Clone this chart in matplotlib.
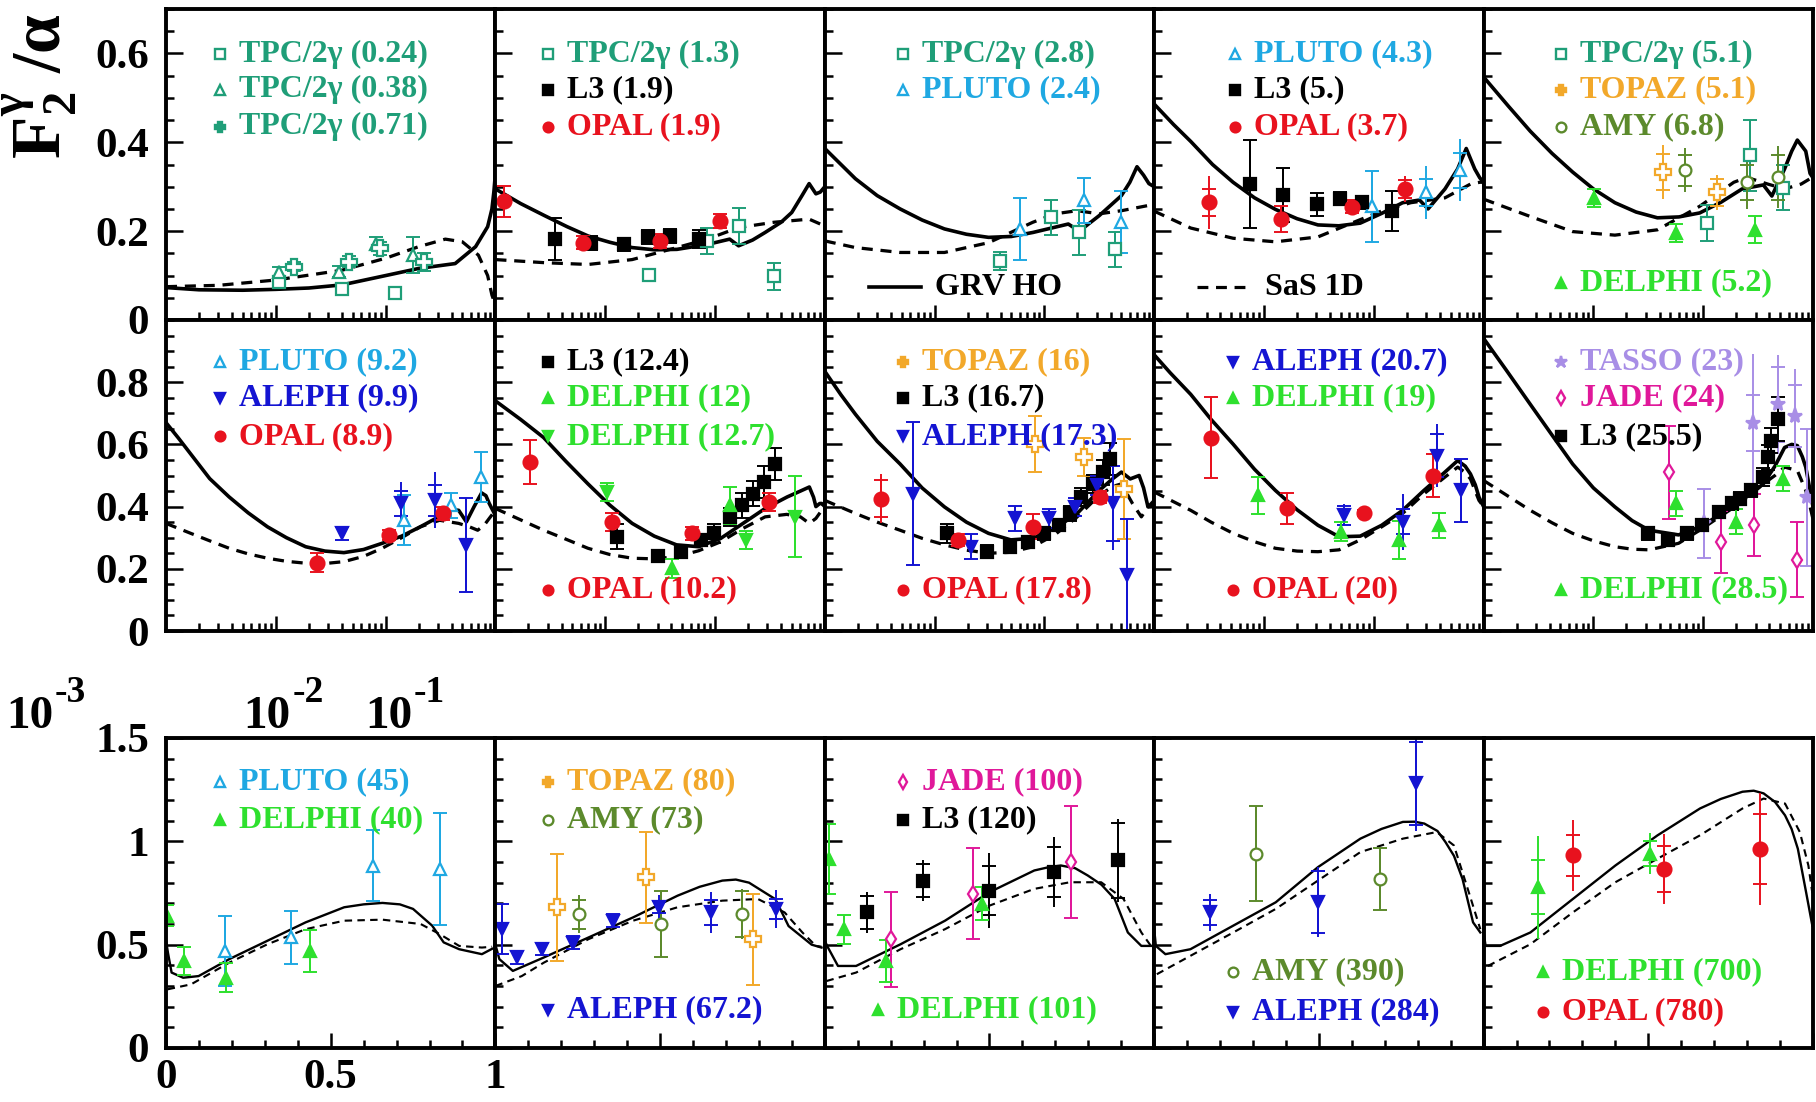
import matplotlib.pyplot as plt
from matplotlib.ticker import MultipleLocator, FixedLocator, LogLocator, NullFormatter, FuncFormatter
from matplotlib.transforms import offset_copy

plt.rcParams['font.family'] = ['Liberation Serif', 'DejaVu Serif']
plt.rcParams['font.weight'] = 'bold'
plt.rcParams['mathtext.fontset'] = 'custom'
plt.rcParams['mathtext.rm'] = 'Liberation Serif:bold'
plt.rcParams['mathtext.it'] = 'Liberation Serif:bold'
plt.rcParams['mathtext.bf'] = 'Liberation Serif:bold'

# ---------------- data: GRV HO (solid) and SaS 1D (dashed) per panel ----------------
p1_grv_x = [0.001, 0.002, 0.005, 0.01, 0.02, 0.04, 0.1, 0.2, 0.43, 0.66, 0.85, 0.93, 0.97, 1.0]
p1_grv_y = [0.073, 0.068, 0.067, 0.069, 0.072, 0.079, 0.100, 0.116, 0.127, 0.165, 0.21, 0.25, 0.29, 0.33]
p1_sas_x = [0.001, 0.003, 0.01, 0.04, 0.1, 0.2, 0.35, 0.5, 0.7, 0.85, 0.93, 0.98]
p1_sas_y = [0.075, 0.078, 0.09, 0.112, 0.139, 0.165, 0.182, 0.176, 0.146, 0.10, 0.056, 0.04]

p2_grv_x = [0.001, 0.0017, 0.0028, 0.0045, 0.007, 0.011, 0.0176, 0.028, 0.045, 0.085, 0.136, 0.164,
            0.22, 0.286, 0.40, 0.50, 0.62, 0.72, 0.83, 0.91, 1.0]
p2_grv_y = [0.295, 0.262, 0.235, 0.21, 0.189, 0.175, 0.163, 0.158, 0.159, 0.170, 0.182, 0.167,
            0.18, 0.197, 0.22, 0.242, 0.28, 0.307, 0.284, 0.288, 0.30]
p2_sas_x = [0.001, 0.0028, 0.007, 0.0176, 0.045, 0.085, 0.164, 0.344, 0.72, 0.91, 1.0]
p2_sas_y = [0.136, 0.129, 0.125, 0.136, 0.163, 0.182, 0.208, 0.220, 0.227, 0.216, 0.21]

p3_grv_x = [0.001, 0.0019, 0.003, 0.00485, 0.0077, 0.0123, 0.0195, 0.031, 0.05, 0.0785, 0.165, 0.208,
            0.316, 0.503, 0.6, 0.697, 0.80, 0.895, 1.0]
p3_grv_y = [0.386, 0.318, 0.28, 0.25, 0.225, 0.205, 0.193, 0.186, 0.188, 0.197, 0.216, 0.20,
            0.235, 0.28, 0.31, 0.345, 0.326, 0.307, 0.30]
p3_sas_x = [0.001, 0.0019, 0.00485, 0.0123, 0.031, 0.0785, 0.125, 0.198, 0.316, 0.503, 0.895, 1.0]
p3_sas_y = [0.178, 0.163, 0.152, 0.152, 0.174, 0.22, 0.239, 0.246, 0.239, 0.246, 0.258, 0.26]

p4_grv_x = [0.001, 0.0015, 0.00215, 0.0034, 0.00523, 0.0082, 0.0127, 0.02, 0.031, 0.048, 0.0752, 0.118,
            0.183, 0.261, 0.312, 0.445, 0.58, 0.695, 0.83, 0.923, 1.0]
p4_grv_y = [0.486, 0.44, 0.402, 0.35, 0.31, 0.275, 0.249, 0.228, 0.214, 0.212, 0.218, 0.24,
            0.264, 0.27, 0.25, 0.295, 0.34, 0.386, 0.34, 0.32, 0.31]
p4_sas_x = [0.001, 0.00215, 0.00523, 0.0127, 0.031, 0.0628, 0.117, 0.217, 0.445, 0.76, 0.923, 1.0]
p4_sas_y = [0.245, 0.207, 0.184, 0.176, 0.187, 0.218, 0.245, 0.264, 0.275, 0.306, 0.31, 0.31]

p5_grv_x = [0.001, 0.0017, 0.00266, 0.0042, 0.00647, 0.01, 0.0157, 0.0245, 0.0383, 0.06, 0.093, 0.145,
            0.226, 0.353, 0.422, 0.551, 0.64, 0.72, 0.859, 0.94, 1.0]
p5_grv_y = [0.547, 0.48, 0.425, 0.375, 0.333, 0.295, 0.264, 0.243, 0.23, 0.232, 0.241, 0.265,
            0.295, 0.304, 0.279, 0.34, 0.38, 0.405, 0.38, 0.33, 0.32]
p5_sas_x = [0.001, 0.00266, 0.00647, 0.0157, 0.0383, 0.093, 0.19, 0.25, 0.387, 0.551, 0.78, 0.94, 1.0]
p5_sas_y = [0.272, 0.233, 0.199, 0.191, 0.203, 0.256, 0.31, 0.321, 0.306, 0.295, 0.306, 0.318, 0.32]

p6_grv_x = [0.001, 0.0013, 0.00168, 0.0025, 0.00376, 0.0056, 0.0084, 0.0125, 0.0187, 0.028, 0.0417,
            0.063, 0.093, 0.14, 0.207, 0.28, 0.336, 0.40, 0.463, 0.544, 0.64, 0.749, 0.82, 0.879, 0.94, 1.0]
p6_grv_y = [0.67, 0.62, 0.569, 0.49, 0.431, 0.38, 0.335, 0.30, 0.271, 0.257, 0.252,
            0.262, 0.282, 0.305, 0.335, 0.36, 0.378, 0.39, 0.388, 0.351, 0.40, 0.444, 0.435, 0.41, 0.39, 0.372]
p6_sas_x = [0.001, 0.00168, 0.0025, 0.00376, 0.0056, 0.0084, 0.0125, 0.0187, 0.028, 0.0417, 0.063,
            0.093, 0.14, 0.207, 0.31, 0.463, 0.58, 0.69, 0.79, 0.879, 1.0]
p6_sas_y = [0.346, 0.314, 0.29, 0.266, 0.248, 0.234, 0.224, 0.218, 0.217, 0.223, 0.24,
            0.266, 0.30, 0.335, 0.356, 0.346, 0.335, 0.324, 0.34, 0.362, 0.388]

p7_grv_x = [0.001, 0.0017, 0.00275, 0.0044, 0.00697, 0.011, 0.0176, 0.028, 0.0446, 0.071, 0.113, 0.18,
            0.286, 0.454, 0.6, 0.723, 0.79, 0.83, 0.9, 0.937, 1.0]
p7_grv_y = [0.74, 0.68, 0.622, 0.545, 0.473, 0.405, 0.346, 0.305, 0.277, 0.271, 0.298, 0.346,
            0.394, 0.431, 0.45, 0.463, 0.43, 0.40, 0.41, 0.41, 0.40]
p7_sas_x = [0.001, 0.00275, 0.0044, 0.00697, 0.011, 0.0176, 0.028, 0.0446, 0.071, 0.113, 0.18, 0.286,
            0.45, 0.60, 0.723, 0.83, 0.937, 1.0]
p7_sas_y = [0.394, 0.324, 0.295, 0.266, 0.246, 0.234, 0.232, 0.239, 0.258, 0.287, 0.33, 0.367,
            0.375, 0.367, 0.346, 0.362, 0.388, 0.40]

p8_grv_x = [0.001, 0.0014, 0.0019, 0.003, 0.00485, 0.0077, 0.0123, 0.0195, 0.031, 0.0494, 0.0785, 0.125,
            0.199, 0.316, 0.42, 0.503, 0.605, 0.729, 0.8, 0.878, 1.0]
p8_grv_y = [0.835, 0.76, 0.697, 0.61, 0.537, 0.46, 0.399, 0.35, 0.314, 0.293, 0.298, 0.33,
            0.378, 0.452, 0.49, 0.511, 0.489, 0.50, 0.46, 0.399, 0.40]
p8_sas_x = [0.001, 0.0019, 0.003, 0.00485, 0.0077, 0.0123, 0.0195, 0.031, 0.0494, 0.0785, 0.125, 0.199,
            0.316, 0.42, 0.503, 0.634, 0.764, 0.878, 1.0]
p8_sas_y = [0.42, 0.378, 0.35, 0.324, 0.298, 0.277, 0.26, 0.25, 0.253, 0.271, 0.31, 0.367,
            0.436, 0.465, 0.473, 0.41, 0.367, 0.399, 0.42]

p9_grv_x = [0.001, 0.0014, 0.00215, 0.0033, 0.00523, 0.0082, 0.0127, 0.02, 0.031, 0.0483, 0.0752, 0.118,
            0.183, 0.286, 0.445, 0.581, 0.68, 0.759, 0.84, 0.907, 1.0]
p9_grv_y = [0.888, 0.83, 0.761, 0.68, 0.601, 0.52, 0.452, 0.39, 0.34, 0.303, 0.305, 0.34,
            0.388, 0.452, 0.511, 0.548, 0.53, 0.505, 0.47, 0.431, 0.40]
p9_sas_x = [0.001, 0.00215, 0.0033, 0.00523, 0.0082, 0.0127, 0.02, 0.031, 0.0483, 0.0752, 0.118, 0.183,
            0.286, 0.445, 0.581, 0.68, 0.759, 0.907, 1.0]
p9_sas_y = [0.447, 0.388, 0.35, 0.314, 0.287, 0.266, 0.257, 0.255, 0.261, 0.293, 0.335, 0.378,
            0.441, 0.495, 0.527, 0.51, 0.489, 0.42, 0.40]

p10_grv_x = [0.001, 0.0016, 0.00266, 0.0042, 0.00647, 0.01, 0.0157, 0.0225, 0.0321, 0.0597, 0.093, 0.145,
             0.226, 0.353, 0.45, 0.551, 0.64, 0.72, 0.8, 0.859, 0.94, 1.0]
p10_grv_y = [0.941, 0.84, 0.729, 0.63, 0.537, 0.46, 0.399, 0.355, 0.324, 0.309, 0.335, 0.375,
             0.42, 0.473, 0.53, 0.59, 0.60, 0.596, 0.56, 0.527, 0.452, 0.40]
p10_sas_x = [0.001, 0.00266, 0.0042, 0.00647, 0.01, 0.0157, 0.0225, 0.0321, 0.0597, 0.093, 0.145, 0.226,
             0.353, 0.45, 0.551, 0.72, 0.859, 0.94, 1.0]
p10_sas_y = [0.484, 0.388, 0.348, 0.314, 0.29, 0.271, 0.263, 0.261, 0.282, 0.324, 0.37, 0.415,
             0.473, 0.50, 0.527, 0.516, 0.452, 0.40, 0.36]

p11_grv_x = [0.0, 0.006, 0.017, 0.052, 0.099, 0.192, 0.308, 0.424, 0.541, 0.6, 0.657, 0.71, 0.75, 0.808,
             0.843, 0.89, 0.959, 0.99]
p11_grv_y = [0.52, 0.46, 0.365, 0.34, 0.348, 0.43, 0.519, 0.608, 0.681, 0.695, 0.702, 0.695, 0.673, 0.592,
             0.511, 0.478, 0.454, 0.48]
p11_sas_x = [0.005, 0.076, 0.192, 0.308, 0.424, 0.541, 0.657, 0.773, 0.831, 0.89, 0.959, 0.99]
p11_sas_y = [0.284, 0.308, 0.413, 0.502, 0.575, 0.616, 0.621, 0.60, 0.551, 0.494, 0.486, 0.49]

p12_grv_x = [0.0, 0.012, 0.053, 0.147, 0.283, 0.418, 0.553, 0.62, 0.689, 0.73, 0.77, 0.85, 0.89, 0.96, 0.99]
p12_grv_y = [0.50, 0.43, 0.373, 0.438, 0.535, 0.632, 0.737, 0.78, 0.81, 0.815, 0.80, 0.72, 0.59, 0.50, 0.486]
p12_sas_x = [0.0, 0.08, 0.147, 0.283, 0.418, 0.553, 0.689, 0.797, 0.878, 0.932, 0.973, 0.99]
p12_sas_y = [0.30, 0.348, 0.413, 0.527, 0.616, 0.681, 0.713, 0.721, 0.656, 0.559, 0.494, 0.49]

p13_grv_x = [0.0, 0.007, 0.04, 0.095, 0.23, 0.365, 0.50, 0.636, 0.68, 0.717, 0.76, 0.798, 0.84, 0.88,
             0.92, 0.961, 0.99]
p13_grv_y = [0.52, 0.494, 0.397, 0.397, 0.502, 0.616, 0.754, 0.859, 0.875, 0.883, 0.87, 0.835, 0.79, 0.721,
             0.559, 0.494, 0.494]
p13_sas_x = [0.005, 0.095, 0.23, 0.365, 0.50, 0.636, 0.744, 0.839, 0.907, 0.961, 0.99]
p13_sas_y = [0.324, 0.365, 0.478, 0.575, 0.689, 0.77, 0.802, 0.802, 0.721, 0.559, 0.494]

p14_grv_x = [0.0, 0.005, 0.034, 0.11, 0.24, 0.369, 0.497, 0.626, 0.69, 0.755, 0.79, 0.82, 0.86, 0.884,
             0.91, 0.936, 0.968, 0.99]
p14_grv_y = [0.575, 0.494, 0.454, 0.478, 0.592, 0.705, 0.875, 1.013, 1.06, 1.094, 1.095, 1.086, 1.05, 0.997,
             0.93, 0.818, 0.608, 0.559]
p14_sas_x = [0.008, 0.11, 0.24, 0.369, 0.497, 0.626, 0.755, 0.858, 0.91, 0.955, 0.99]
p14_sas_y = [0.357, 0.446, 0.559, 0.673, 0.81, 0.948, 1.013, 1.045, 0.98, 0.754, 0.575]

p15_grv_x = [0.0, 0.006, 0.05, 0.142, 0.271, 0.40, 0.528, 0.657, 0.72, 0.786, 0.82, 0.85, 0.885, 0.915,
             0.935, 0.954, 0.979, 0.998]
p15_grv_y = [0.56, 0.494, 0.494, 0.559, 0.721, 0.883, 1.029, 1.159, 1.205, 1.24, 1.245, 1.232, 1.19, 1.126,
             1.06, 0.964, 0.754, 0.592]
p15_sas_x = [0.013, 0.142, 0.271, 0.40, 0.528, 0.657, 0.786, 0.85, 0.915, 0.96, 0.986, 0.998]
p15_sas_y = [0.397, 0.502, 0.656, 0.802, 0.916, 1.029, 1.159, 1.207, 1.183, 1.045, 0.883, 0.75]

# ---------------- data: measurements (x, F2/alpha, total error, stat error) ----------------
p1_tpc024_x = [0.0107, 0.040, 0.123]
p1_tpc024_y = [0.085, 0.070, 0.060]
p1_tpc024_e = [0.01, 0.01, 0.01]
p1_tpc038_x = [0.0107, 0.038, 0.082, 0.177]
p1_tpc038_y = [0.109, 0.109, 0.172, 0.146]
p1_tpc038_e = [0.01, 0.012, 0.015, 0.04]
p1_tpc071_x = [0.0147, 0.046, 0.089, 0.225]
p1_tpc071_y = [0.12, 0.131, 0.161, 0.131]
p1_tpc071_e = [0.01, 0.012, 0.015, 0.02]

p2_tpc_x = [0.0251, 0.0854, 0.164, 0.344]
p2_tpc_y = [0.102, 0.178, 0.212, 0.098]
p2_tpc_e = [0.012, 0.03, 0.04, 0.03]
p2_l3_x = [0.00347, 0.0075, 0.0149, 0.0244, 0.0388, 0.0722]
p2_l3_y = [0.182, 0.173, 0.170, 0.187, 0.189, 0.182]
p2_l3_e = [0.047, 0.015, 0.015, 0.015, 0.015, 0.02]
p2_opal_x = [0.00119, 0.0063, 0.0313, 0.110]
p2_opal_y = [0.267, 0.174, 0.178, 0.223]
p2_opal_e = [0.035, 0.015, 0.015, 0.015]

p3_tpc_x = [0.0392, 0.114, 0.208, 0.437]
p3_tpc_y = [0.133, 0.231, 0.197, 0.159]
p3_tpc_e = [0.02, 0.04, 0.05, 0.04]
p3_pluto_x = [0.0594, 0.229, 0.503]
p3_pluto_y = [0.205, 0.269, 0.22]
p3_pluto_e = [0.07, 0.05, 0.07]

p4_pluto_x = [0.0966, 0.299, 0.608]
p4_pluto_y = [0.256, 0.287, 0.337]
p4_pluto_e = [0.08, 0.06, 0.07]
p4_pluto_s = [0.08, 0.03, 0.04]
p4_l3_x = [0.00746, 0.0149, 0.0301, 0.0491, 0.0787, 0.1466]
p4_l3_y = [0.306, 0.281, 0.26, 0.273, 0.265, 0.245]
p4_l3_e = [0.1, 0.06, 0.025, 0.015, 0.015, 0.045]
p4_opal_x = [0.00315, 0.01426, 0.063, 0.191]
p4_opal_y = [0.265, 0.227, 0.255, 0.295]
p4_opal_e = [0.06, 0.03, 0.015, 0.03]
p4_opal_s = [0.03, 0.03, 0.015, 0.02]

p5_tpc_x = [0.109, 0.266, 0.537]
p5_tpc_y = [0.218, 0.371, 0.298]
p5_tpc_e = [0.04, 0.08, 0.05]
p5_topaz_x = [0.0426, 0.133]
p5_topaz_y = [0.333, 0.287]
p5_topaz_e = [0.06, 0.04]
p5_topaz_s = [0.04, 0.03]
p5_amy_x = [0.0682, 0.248, 0.482]
p5_amy_y = [0.337, 0.31, 0.321]
p5_amy_e = [0.05, 0.06, 0.07]
p5_amy_s = [0.035, 0.04, 0.05]
p5_delphi_x = [0.0102, 0.0571, 0.296]
p5_delphi_y = [0.275, 0.195, 0.203]
p5_delphi_e = [0.02, 0.02, 0.03]

p6_pluto_x = [0.147, 0.394, 0.74]
p6_pluto_y = [0.356, 0.404, 0.495]
p6_pluto_e = [0.08, 0.04, 0.08]
p6_aleph_x = [0.040, 0.139, 0.28, 0.54]
p6_aleph_y = [0.314, 0.41, 0.42, 0.277]
p6_aleph_e = [0.02, 0.07, 0.09, 0.15]
p6_aleph_s = [0.02, 0.04, 0.05, 0.15]
p6_opal_x = [0.0238, 0.107, 0.336]
p6_opal_y = [0.22, 0.309, 0.378]
p6_opal_e = [0.03, 0.015, 0.02]

p7_l3_x = [0.0127, 0.0302, 0.049, 0.0743, 0.098, 0.136, 0.176, 0.22, 0.28, 0.35]
p7_l3_y = [0.303, 0.241, 0.255, 0.293, 0.314, 0.367, 0.404, 0.441, 0.479, 0.537]
p7_l3_e = [0.04, 0.02, 0.02, 0.02, 0.03, 0.03, 0.04, 0.04, 0.05, 0.05]
p7_delphi_x = [0.041, 0.138]
p7_delphi_y = [0.202, 0.404]
p7_delphi_e = [0.03, 0.06]
p7_delphidn_x = [0.0103, 0.193, 0.54]
p7_delphidn_y = [0.447, 0.293, 0.367]
p7_delphidn_e = [0.03, 0.03, 0.13]
p7_opal_x = [0.00208, 0.0116, 0.062, 0.31]
p7_opal_y = [0.543, 0.351, 0.314, 0.415]
p7_opal_e = [0.07, 0.03, 0.02, 0.03]

p8_topaz_x = [0.0823, 0.229, 0.527]
p8_topaz_y = [0.601, 0.559, 0.457]
p8_topaz_e = [0.09, 0.06, 0.16]
p8_l3_x = [0.01285, 0.0302, 0.0485, 0.0716, 0.099, 0.1346, 0.17, 0.214, 0.275, 0.34, 0.399]
p8_l3_y = [0.314, 0.255, 0.271, 0.287, 0.314, 0.34, 0.378, 0.431, 0.473, 0.511, 0.553]
p8_l3_e = [0.03, 0.02, 0.02, 0.02, 0.02, 0.02, 0.025, 0.03, 0.03, 0.04, 0.05]
p8_aleph_x = [0.0064, 0.0214, 0.0542, 0.109, 0.19, 0.302, 0.418, 0.568]
p8_aleph_y = [0.441, 0.271, 0.362, 0.362, 0.399, 0.468, 0.41, 0.181]
p8_aleph_e = [0.23, 0.04, 0.04, 0.03, 0.03, 0.03, 0.15, 0.18]
p8_aleph_s = [0.23, 0.04, 0.04, 0.03, 0.03, 0.03, 0.12, 0.18]
p8_opal_x = [0.00328, 0.0162, 0.0785, 0.322]
p8_opal_y = [0.426, 0.293, 0.335, 0.431]
p8_opal_e = [0.08, 0.02, 0.04, 0.02]
p8_opal_s = [0.06, 0.02, 0.04, 0.02]

p9_aleph_x = [0.0537, 0.183, 0.373, 0.624]
p9_aleph_y = [0.372, 0.351, 0.564, 0.452]
p9_aleph_e = [0.035, 0.09, 0.1, 0.1]
p9_aleph_s = [0.03, 0.04, 0.07, 0.1]
p9_delphi_x = [0.0089, 0.0505, 0.171, 0.394]
p9_delphi_y = [0.436, 0.319, 0.293, 0.34]
p9_delphi_e = [0.06, 0.03, 0.06, 0.04]
p9_opal_x = [0.00326, 0.0163, 0.0808, 0.347]
p9_opal_y = [0.622, 0.394, 0.38, 0.50]
p9_opal_e = [0.13, 0.05, 0.01, 0.07]

p10_tasso_x = [0.1018, 0.283, 0.482, 0.689, 0.875]
p10_tasso_y = [0.346, 0.67, 0.729, 0.691, 0.43]
p10_tasso_e = [0.11, 0.22, 0.16, 0.15, 0.22]
p10_tasso_s = [0.11, 0.09, 0.12, 0.10, 0.22]
p10_jade_x = [0.0491, 0.145, 0.29, 0.72]
p10_jade_y = [0.51, 0.287, 0.34, 0.229]
p10_jade_e = [0.15, 0.1, 0.1, 0.12]
p10_l3_x = [0.0312, 0.0478, 0.0713, 0.0973, 0.139, 0.1815, 0.2168, 0.2706, 0.353, 0.393, 0.415, 0.482]
p10_l3_y = [0.314, 0.293, 0.314, 0.34, 0.383, 0.41, 0.426, 0.452, 0.495, 0.559, 0.612, 0.681]
p10_l3_e = [0.02, 0.02, 0.02, 0.02, 0.02, 0.02, 0.02, 0.02, 0.03, 0.04, 0.04, 0.07]
p10_delphi_x = [0.0571, 0.198, 0.537]
p10_delphi_y = [0.41, 0.351, 0.489]
p10_delphi_e = [0.04, 0.04, 0.04]

p11_pluto_x = [0.18, 0.38, 0.628, 0.831]
p11_pluto_y = [0.47, 0.535, 0.883, 0.867]
p11_pluto_e = [0.17, 0.13, 0.17, 0.27]
p11_delphi_x = [0.003, 0.056, 0.183, 0.436]
p11_delphi_y = [0.64, 0.421, 0.34, 0.47]
p11_delphi_e = [0.05, 0.07, 0.07, 0.1]

p12_topaz_x = [0.188, 0.456, 0.783]
p12_topaz_y = [0.681, 0.827, 0.527]
p12_topaz_e = [0.26, 0.22, 0.22]
p12_amy_x = [0.253, 0.502, 0.75]
p12_amy_y = [0.648, 0.60, 0.648]
p12_amy_e = [0.09, 0.16, 0.12]
p12_amy_s = [0.07, 0.16, 0.11]
p12_aleph_x = [0.019, 0.066, 0.14, 0.235, 0.357, 0.497, 0.655, 0.851]
p12_aleph_y = [0.575, 0.438, 0.478, 0.51, 0.616, 0.681, 0.656, 0.673]
p12_aleph_e = [0.12, 0.03, 0.03, 0.03, 0.03, 0.06, 0.1, 0.09]
p12_aleph_s = [0.12, 0.03, 0.03, 0.03, 0.03, 0.03, 0.06, 0.05]

p13_jade_x = [0.20, 0.449, 0.748]
p13_jade_y = [0.527, 0.746, 0.90]
p13_jade_e = [0.23, 0.22, 0.27]
p13_l3_x = [0.129, 0.298, 0.498, 0.697, 0.89]
p13_l3_y = [0.656, 0.81, 0.762, 0.851, 0.908]
p13_l3_e = [0.1, 0.1, 0.18, 0.17, 0.2]
p13_l3_s = [0.08, 0.08, 0.12, 0.12, 0.18]
p13_delphi_x = [0.014, 0.057, 0.187, 0.476]
p13_delphi_y = [0.916, 0.575, 0.421, 0.697]
p13_delphi_e = [0.17, 0.07, 0.1, 0.08]

p14_amy_x = [0.308, 0.684]
p14_amy_y = [0.94, 0.818]
p14_amy_e = [0.23, 0.15]
p14_aleph_x = [0.169, 0.497, 0.794]
p14_aleph_y = [0.656, 0.705, 1.28]
p14_aleph_e = [0.09, 0.17, 0.23]
p14_aleph_s = [0.06, 0.15, 0.2]

p15_delphi_x = [0.165, 0.506]
p15_delphi_y = [0.778, 0.94]
p15_delphi_e = [0.25, 0.1]
p15_delphi_s = [0.13, 0.06]
p15_opal_x = [0.271, 0.548, 0.838]
p15_opal_y = [0.932, 0.867, 0.964]
p15_opal_e = [0.17, 0.17, 0.27]
p15_opal_s = [0.1, 0.11, 0.17]

# ---------------- styles per experiment: colour, marker, open? ----------------
STYLE = {
    'tpc_sq':   ('#1f9e78', 's', True),
    'tpc_tri':  ('#1f9e78', '^', True),
    'tpc_crs':  ('#1f9e78', 'P', True),
    'pluto':    ('#1fa8e2', '^', True),
    'l3':       ('black',   's', False),
    'opal':     ('#e8121e', 'o', False),
    'aleph':    ('#1414d2', 'v', False),
    'delphi':   ('#2ee02e', '^', False),
    'delphi_dn': ('#2ee02e', 'v', False),
    'topaz':    ('#f2a82a', 'P', True),
    'amy':      ('#5c8a2c', 'o', True),
    'tasso':    ('#a88ee6', '*', False),
    'jade':     ('#e0189a', 'd', True),
}


def S(key, x, y, e, s=None):
    return (key, x, y, e, e if s is None else s)


PANELS = [
    dict(grv=(p1_grv_x, p1_grv_y), sas=(p1_sas_x, p1_sas_y),
         sets=[S('tpc_sq', p1_tpc024_x, p1_tpc024_y, p1_tpc024_e),
               S('tpc_tri', p1_tpc038_x, p1_tpc038_y, p1_tpc038_e),
               S('tpc_crs', p1_tpc071_x, p1_tpc071_y, p1_tpc071_e)],
         leg=[('tpc_sq', 'TPC/2γ (0.24)', 0.164, 0.855),
              ('tpc_tri', 'TPC/2γ (0.38)', 0.164, 0.74),
              ('tpc_crs', 'TPC/2γ (0.71)', 0.164, 0.622)]),
    dict(grv=(p2_grv_x, p2_grv_y), sas=(p2_sas_x, p2_sas_y),
         sets=[S('tpc_sq', p2_tpc_x, p2_tpc_y, p2_tpc_e),
               S('l3', p2_l3_x, p2_l3_y, p2_l3_e),
               S('opal', p2_opal_x, p2_opal_y, p2_opal_e)],
         leg=[('tpc_sq', 'TPC/2γ (1.3)', 0.16, 0.855),
              ('l3', 'L3 (1.9)', 0.16, 0.74),
              ('opal', 'OPAL (1.9)', 0.16, 0.622)]),
    dict(grv=(p3_grv_x, p3_grv_y), sas=(p3_sas_x, p3_sas_y),
         sets=[S('tpc_sq', p3_tpc_x, p3_tpc_y, p3_tpc_e),
               S('pluto', p3_pluto_x, p3_pluto_y, p3_pluto_e)],
         leg=[('tpc_sq', 'TPC/2γ (2.8)', 0.236, 0.855),
              ('pluto', 'PLUTO (2.4)', 0.236, 0.74)]),
    dict(grv=(p4_grv_x, p4_grv_y), sas=(p4_sas_x, p4_sas_y),
         sets=[S('pluto', p4_pluto_x, p4_pluto_y, p4_pluto_e, p4_pluto_s),
               S('l3', p4_l3_x, p4_l3_y, p4_l3_e),
               S('opal', p4_opal_x, p4_opal_y, p4_opal_e, p4_opal_s)],
         leg=[('pluto', 'PLUTO (4.3)', 0.245, 0.855),
              ('l3', 'L3 (5.)', 0.245, 0.74),
              ('opal', 'OPAL (3.7)', 0.245, 0.622)]),
    dict(grv=(p5_grv_x, p5_grv_y), sas=(p5_sas_x, p5_sas_y),
         sets=[S('tpc_sq', p5_tpc_x, p5_tpc_y, p5_tpc_e),
               S('topaz', p5_topaz_x, p5_topaz_y, p5_topaz_e, p5_topaz_s),
               S('amy', p5_amy_x, p5_amy_y, p5_amy_e, p5_amy_s),
               S('delphi', p5_delphi_x, p5_delphi_y, p5_delphi_e)],
         leg=[('tpc_sq', 'TPC/2γ (5.1)', 0.236, 0.855),
              ('topaz', 'TOPAZ (5.1)', 0.236, 0.74),
              ('amy', 'AMY (6.8)', 0.236, 0.622),
              ('delphi', 'DELPHI (5.2)', 0.236, 0.12)]),
    dict(grv=(p6_grv_x, p6_grv_y), sas=(p6_sas_x, p6_sas_y),
         sets=[S('pluto', p6_pluto_x, p6_pluto_y, p6_pluto_e),
               S('aleph', p6_aleph_x, p6_aleph_y, p6_aleph_e, p6_aleph_s),
               S('opal', p6_opal_x, p6_opal_y, p6_opal_e)],
         leg=[('pluto', 'PLUTO (9.2)', 0.164, 0.865),
              ('aleph', 'ALEPH (9.9)', 0.164, 0.749),
              ('opal', 'OPAL (8.9)', 0.164, 0.626)]),
    dict(grv=(p7_grv_x, p7_grv_y), sas=(p7_sas_x, p7_sas_y),
         sets=[S('l3', p7_l3_x, p7_l3_y, p7_l3_e),
               S('delphi', p7_delphi_x, p7_delphi_y, p7_delphi_e),
               S('delphi_dn', p7_delphidn_x, p7_delphidn_y, p7_delphidn_e),
               S('opal', p7_opal_x, p7_opal_y, p7_opal_e)],
         leg=[('l3', 'L3 (12.4)', 0.16, 0.865),
              ('delphi', 'DELPHI (12)', 0.16, 0.749),
              ('delphi_dn', 'DELPHI (12.7)', 0.16, 0.626),
              ('opal', 'OPAL (10.2)', 0.16, 0.132)]),
    dict(grv=(p8_grv_x, p8_grv_y), sas=(p8_sas_x, p8_sas_y),
         sets=[S('topaz', p8_topaz_x, p8_topaz_y, p8_topaz_e),
               S('l3', p8_l3_x, p8_l3_y, p8_l3_e),
               S('aleph', p8_aleph_x, p8_aleph_y, p8_aleph_e, p8_aleph_s),
               S('opal', p8_opal_x, p8_opal_y, p8_opal_e, p8_opal_s)],
         leg=[('topaz', 'TOPAZ (16)', 0.236, 0.865),
              ('l3', 'L3 (16.7)', 0.236, 0.749),
              ('aleph', 'ALEPH (17.3)', 0.236, 0.626),
              ('opal', 'OPAL (17.8)', 0.236, 0.132)]),
    dict(grv=(p9_grv_x, p9_grv_y), sas=(p9_sas_x, p9_sas_y),
         sets=[S('aleph', p9_aleph_x, p9_aleph_y, p9_aleph_e, p9_aleph_s),
               S('delphi', p9_delphi_x, p9_delphi_y, p9_delphi_e),
               S('opal', p9_opal_x, p9_opal_y, p9_opal_e)],
         leg=[('aleph', 'ALEPH (20.7)', 0.24, 0.865),
              ('delphi', 'DELPHI (19)', 0.24, 0.749),
              ('opal', 'OPAL (20)', 0.24, 0.132)]),
    dict(grv=(p10_grv_x, p10_grv_y), sas=(p10_sas_x, p10_sas_y),
         sets=[S('tasso', p10_tasso_x, p10_tasso_y, p10_tasso_e, p10_tasso_s),
               S('jade', p10_jade_x, p10_jade_y, p10_jade_e),
               S('l3', p10_l3_x, p10_l3_y, p10_l3_e),
               S('delphi', p10_delphi_x, p10_delphi_y, p10_delphi_e)],
         leg=[('tasso', 'TASSO (23)', 0.236, 0.865),
              ('jade', 'JADE (24)', 0.236, 0.749),
              ('l3', 'L3 (25.5)', 0.236, 0.626),
              ('delphi', 'DELPHI (28.5)', 0.236, 0.132)]),
    dict(grv=(p11_grv_x, p11_grv_y), sas=(p11_sas_x, p11_sas_y),
         sets=[S('pluto', p11_pluto_x, p11_pluto_y, p11_pluto_e),
               S('delphi', p11_delphi_x, p11_delphi_y, p11_delphi_e)],
         leg=[('pluto', 'PLUTO (45)', 0.164, 0.858),
              ('delphi', 'DELPHI (40)', 0.164, 0.735)]),
    dict(grv=(p12_grv_x, p12_grv_y), sas=(p12_sas_x, p12_sas_y),
         sets=[S('topaz', p12_topaz_x, p12_topaz_y, p12_topaz_e),
               S('amy', p12_amy_x, p12_amy_y, p12_amy_e, p12_amy_s),
               S('aleph', p12_aleph_x, p12_aleph_y, p12_aleph_e, p12_aleph_s)],
         leg=[('topaz', 'TOPAZ (80)', 0.16, 0.858),
              ('amy', 'AMY (73)', 0.16, 0.735),
              ('aleph', 'ALEPH (67.2)', 0.16, 0.123)]),
    dict(grv=(p13_grv_x, p13_grv_y), sas=(p13_sas_x, p13_sas_y),
         sets=[S('jade', p13_jade_x, p13_jade_y, p13_jade_e),
               S('l3', p13_l3_x, p13_l3_y, p13_l3_e, p13_l3_s),
               S('delphi', p13_delphi_x, p13_delphi_y, p13_delphi_e)],
         leg=[('jade', 'JADE (100)', 0.236, 0.858),
              ('l3', 'L3 (120)', 0.236, 0.735),
              ('delphi', 'DELPHI (101)', 0.16, 0.123)]),
    dict(grv=(p14_grv_x, p14_grv_y), sas=(p14_sas_x, p14_sas_y),
         sets=[S('amy', p14_amy_x, p14_amy_y, p14_amy_e),
               S('aleph', p14_aleph_x, p14_aleph_y, p14_aleph_e, p14_aleph_s)],
         leg=[('amy', 'AMY (390)', 0.24, 0.245),
              ('aleph', 'ALEPH (284)', 0.24, 0.116)]),
    dict(grv=(p15_grv_x, p15_grv_y), sas=(p15_sas_x, p15_sas_y),
         sets=[S('delphi', p15_delphi_x, p15_delphi_y, p15_delphi_e, p15_delphi_s),
               S('opal', p15_opal_x, p15_opal_y, p15_opal_e, p15_opal_s)],
         leg=[('delphi', 'DELPHI (700)', 0.18, 0.245),
              ('opal', 'OPAL (780)', 0.18, 0.116)]),
]

W_PX, H_PX = 1816, 1102
fig = plt.figure(figsize=(W_PX / 100, H_PX / 100), dpi=100)

left = 166 / W_PX
pw = (1813 - 166) / 5 / W_PX
rows = [(9, 320), (320, 631), (738, 1048)]   # pixel top/bottom of each row

LEG_FS = 23
TICK_FS = 31
FRAME_LW = 2.8

axes = []
for i, pan in enumerate(PANELS):
    r, c = divmod(i, 5)
    top, bot = rows[r]
    ax = fig.add_axes([left + c * pw, 1 - bot / H_PX, pw, (bot - top) / H_PX])
    axes.append(ax)
    for sp in ax.spines.values():
        sp.set_linewidth(FRAME_LW)
        sp.set_zorder(10)

    if r < 2:
        ax.set_xscale('log')
        ax.set_xlim(1e-3, 1)
        ax.xaxis.set_major_locator(FixedLocator([1e-2, 1e-1]))
        ax.xaxis.set_minor_locator(LogLocator(base=10, subs=range(2, 10), numticks=20))
        ax.xaxis.set_major_formatter(NullFormatter())
        ax.xaxis.set_minor_formatter(NullFormatter())
        ymax, ymaj, ymin = (0.7, 0.2, 0.05) if r == 0 else (1.0, 0.2, 0.05)
        lw_c, dash = 2.6, (3.4, 2.4)
    else:
        ax.set_xlim(0, 1)
        ax.xaxis.set_major_locator(FixedLocator([0, 0.5, 1]))
        ax.xaxis.set_minor_locator(MultipleLocator(0.1))
        ymax, ymaj, ymin = 1.5, 0.5, 0.1
        lw_c, dash = 1.7, (3.5, 2.5)
        if c == 0:
            ax.xaxis.set_major_formatter(FuncFormatter(lambda v, p: f'{v:g}'))
        else:
            ax.xaxis.set_major_formatter(NullFormatter())

    ax.set_ylim(0, ymax)
    yt = [k * ymaj for k in range(int(round(ymax / ymaj)) + 1)]
    if r == 1:
        yt = yt[:-1]
    ax.yaxis.set_major_locator(FixedLocator(yt))
    ax.yaxis.set_minor_locator(MultipleLocator(ymin))
    if c == 0:
        ax.yaxis.set_major_formatter(FuncFormatter(lambda v, p: f'{v:g}'))
    else:
        ax.yaxis.set_major_formatter(NullFormatter())

    ax.tick_params(which='both', direction='in', top=False, right=False, width=1.8,
                   labelsize=TICK_FS)
    ax.tick_params(axis='y', which='major', length=12, pad=12)
    ax.tick_params(axis='y', which='minor', length=6)
    ax.tick_params(axis='x', which='major', length=11, pad=8)
    ax.tick_params(axis='x', which='minor', length=5.5)

    # theory curves
    ax.plot(*pan['grv'], color='black', lw=lw_c, solid_joinstyle='round', zorder=3)
    ax.plot(*pan['sas'], color='black', lw=lw_c * 0.9, ls=(0, dash), zorder=3)

    # measurements
    for key, x, y, e, s in pan['sets']:
        col, mk, hollow = STYLE[key]
        ax.errorbar(x, y, yerr=e, fmt='none', ecolor=col, elinewidth=1.4, capsize=0, zorder=4)
        ax.errorbar(x, y, yerr=s, fmt='none', ecolor=col, elinewidth=1.4, capsize=5,
                    capthick=1.4, zorder=4)
        if mk == 'o' and not hollow:
            ms = 10
        elif mk in ('*', 'P'):
            ms = 11
        else:
            ms = 8.5
        ax.plot(x, y, ls='none', marker=mk, ms=ms, mec=col, mew=1.6,
                mfc='white' if hollow else col, zorder=5)

    # legend entries: marker plus coloured label
    for key, label, fx, fy in pan['leg']:
        col, mk, hollow = STYLE[key]
        lmk_fill = col if (mk == 'P' or not hollow) else 'white'
        ax.plot([fx], [fy], ls='none', marker=mk, ms=7 if mk != '*' else 9,
                mec=col, mew=1.7, mfc=lmk_fill, transform=ax.transAxes, zorder=6)
        ax.text(fx + 0.058, fy, label, color=col, fontsize=LEG_FS, fontweight='bold',
                va='center', ha='left', transform=ax.transAxes, zorder=6)

# model key in two of the panels
axes[2].plot([0.133, 0.291], [0.106, 0.106], color='black', lw=2.6, transform=axes[2].transAxes)
axes[2].text(0.336, 0.106, 'GRV HO', fontsize=LEG_FS, fontweight='bold', va='center',
             transform=axes[2].transAxes)
axes[3].plot([0.13, 0.297], [0.106, 0.106], color='black', lw=2.3, ls=(0, (3.4, 2.4)),
             transform=axes[3].transAxes)
axes[3].text(0.336, 0.106, 'SaS 1D', fontsize=LEG_FS, fontweight='bold', va='center',
             transform=axes[3].transAxes)

# decade labels under the first log-x panel: (x, exponent, dx of "10", dx of exponent)
ax6 = axes[5]
for xv, ex, dx10, dxe in [(1e-3, '-3', -136, -111), (1e-2, '-2', -9, 17), (1e-1, '-1', 3, 28)]:
    base = offset_copy(ax6.transData, fig=fig, x=dx10, y=-86, units='dots')
    ax6.text(xv, 0, '10', transform=base, fontsize=34, fontweight='bold',
             ha='center', va='center', clip_on=False)
    sup = offset_copy(ax6.transData, fig=fig, x=dxe, y=-62, units='dots')
    ax6.text(xv, 0, ex, transform=sup, fontsize=27, fontweight='bold',
             ha='left', va='center', clip_on=False)

# y-axis title
fig.text(40 / W_PX, 1 - 86 / H_PX, r'$\mathbf{F}_{\mathbf{2}}^{\gamma}$ /$\alpha$',
         rotation=90, fontsize=50, ha='center', va='center')

fig.savefig('out.png', dpi=100)
